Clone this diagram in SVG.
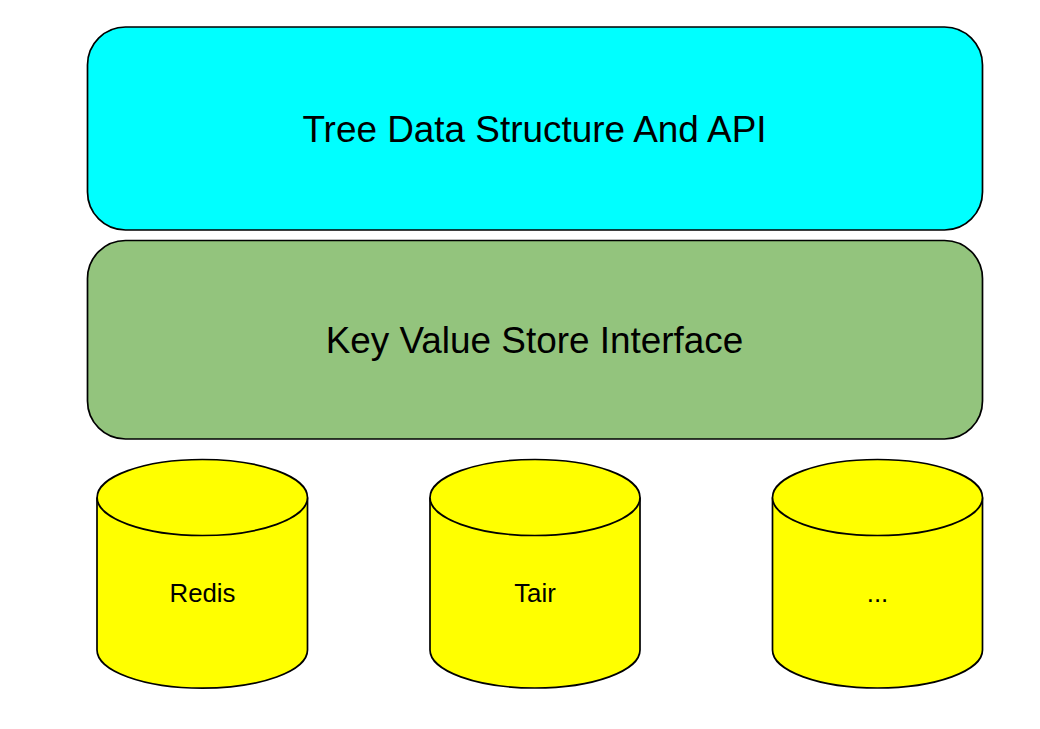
<svg xmlns="http://www.w3.org/2000/svg" width="1040" height="729" viewBox="0 0 1040 729">
<style>
.s{stroke:#000;stroke-width:1.7}
.c{fill:#ffff00}
text{font-family:"Liberation Sans",Arial,sans-serif;fill:#000;text-anchor:middle}
.l{font-size:36.900px}
.m{font-size:25.800px}
</style>
<rect width="1040" height="729" fill="#fff"/>
<g id="tree"><rect class="s" x="87.500" y="27" width="895" height="203" rx="38" ry="38" fill="#00ffff"/><text class="l" x="534.500" y="142">Tree Data Structure And API</text></g>
<g id="kv"><rect class="s" x="87.500" y="240.500" width="895" height="198.500" rx="38" ry="38" fill="#93c47d"/><text class="l" x="534.500" y="353">Key Value Store Interface</text></g>
<g id="redis"><path class="s c" d="M97 497.500V650A105 38 0 0 0 307.500 650V497.500"/><ellipse class="s c" cx="202.300" cy="497.500" rx="105.200" ry="38"/><text class="m" x="202.500" y="602">Redis</text></g>
<g id="tair"><path class="s c" d="M430 497.500V650A105 38 0 0 0 640 650V497.500"/><ellipse class="s c" cx="535" cy="497.500" rx="105" ry="38"/><text class="m" x="535" y="602">Tair</text></g>
<g id="other"><path class="s c" d="M772.500 497.500V650A105 38 0 0 0 982.500 650V497.500"/><ellipse class="s c" cx="877.500" cy="497.500" rx="105" ry="38"/><text class="m" x="877.500" y="602">...</text></g>
<g id="connectors"></g>
</svg>
